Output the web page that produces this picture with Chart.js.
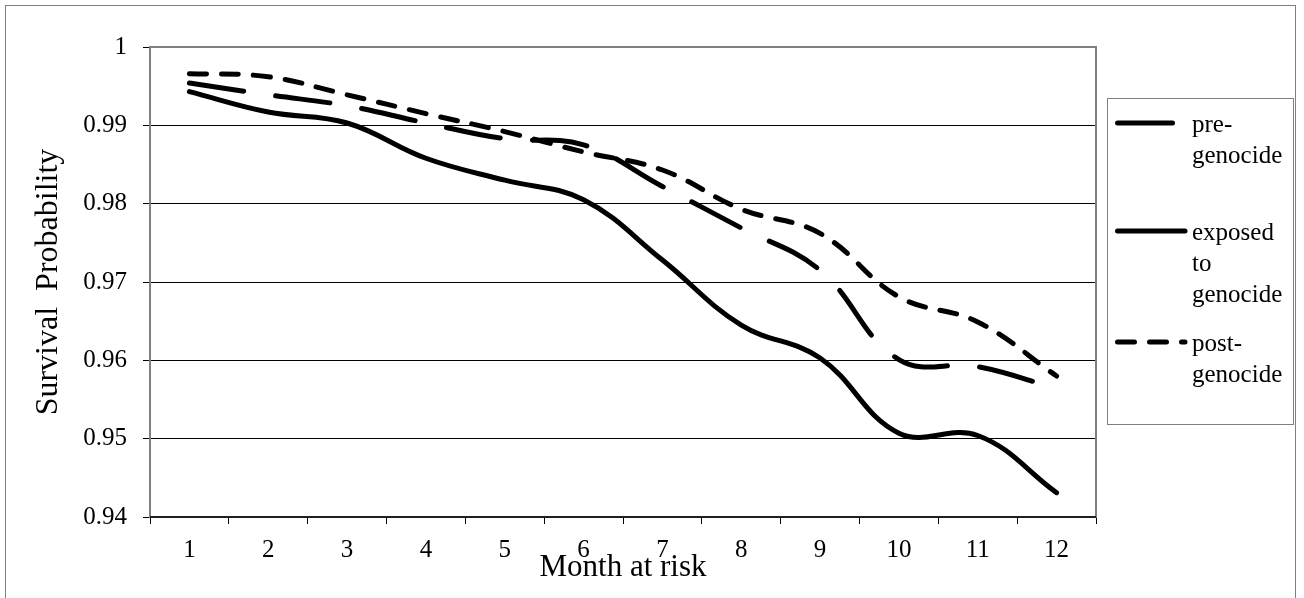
<!DOCTYPE html>
<html>
<head>
<meta charset="utf-8">
<title>Survival Probability by Month at risk</title>
<script src="https://cdn.jsdelivr.net/npm/chart.js@4/dist/chart.umd.min.js"></script>
<style>
  html, body { margin:0; padding:0; background:#fff; }
  #wrap { width:1304px; height:598px; position:relative; overflow:hidden; font-family:"Liberation Serif", serif; }
</style>
</head>
<body>
<div id="wrap"><canvas id="chart" width="1304" height="598"></canvas></div>
<script>
// ===== DATA =====
const months = ['1','2','3','4','5','6','7','8','9','10','11','12'];
const preGenocide = [0.9954, 0.9939, 0.9925, 0.9903, 0.9883, 0.9875, 0.9822, 0.9769, 0.9715, 0.9601, 0.9592, 0.9564];
const exposedGenocide = [0.9943, 0.9917, 0.9903, 0.9858, 0.9830, 0.9805, 0.9728, 0.9645, 0.9603, 0.9507, 0.9504, 0.9431];
const postGenocide = [0.9966, 0.9962, 0.9939, 0.9915, 0.9892, 0.9866, 0.9843, 0.9793, 0.9762, 0.9681, 0.9649, 0.9580];
const seriesNames = ['pre-genocide', 'exposed to genocide', 'post-genocide'];
const legendLines = [['pre-', 'genocide'], ['exposed', 'to', 'genocide'], ['post-', 'genocide']];
const yTicks = [0.94, 0.95, 0.96, 0.97, 0.98, 0.99, 1];

const SERIF = '"Liberation Serif", "Times New Roman", serif';

// frame round the whole picture + plot area border
const framePlugin = {
  id: 'frame',
  beforeDatasetsDraw(chart) {
    const {ctx, chartArea: a} = chart;
    ctx.save();
    ctx.strokeStyle = '#808080';
    ctx.lineWidth = 2;
    ctx.strokeRect(a.left, a.top, a.right - a.left, a.bottom - a.top);
    ctx.strokeStyle = '#000';
    ctx.lineWidth = 1.5;
    ctx.beginPath(); ctx.moveTo(a.left, a.bottom); ctx.lineTo(a.right, a.bottom); ctx.stroke();
    ctx.restore();
  },
  afterDraw(chart) {
    const ctx = chart.ctx;
    ctx.save();
    ctx.strokeStyle = '#808080';
    ctx.lineWidth = 1;
    ctx.strokeRect(5.5, 5.5, 1290, 620);
    ctx.restore();
  }
};

// boxed legend on the right, wrapped text like the original
const boxLegend = {
  id: 'boxLegend',
  afterDraw(chart) {
    const ctx = chart.ctx;
    const box = {x: 1107, y: 98, w: 186, h: 326};
    const rowY = [123, 231, 342];
    ctx.save();
    ctx.strokeStyle = '#808080';
    ctx.lineWidth = 1;
    ctx.strokeRect(box.x + 0.5, box.y + 0.5, box.w, box.h);
    chart.data.datasets.forEach((ds, i) => {
      const y = rowY[i];
      ctx.save();
      ctx.strokeStyle = ds.borderColor;
      ctx.lineWidth = ds.borderWidth;
      ctx.lineCap = 'round';
      ctx.setLineDash(ds.borderDash || []);
      ctx.beginPath(); ctx.moveTo(1117.5, y); ctx.lineTo(1185, y); ctx.stroke();
      ctx.restore();
      ctx.fillStyle = '#000';
      ctx.font = '25px ' + SERIF;
      ctx.textBaseline = 'middle';
      ctx.textAlign = 'left';
      legendLines[i].forEach((t, k) => ctx.fillText(t, 1192, y + 2 + k * 31));
    });
    ctx.restore();
  }
};

const lineStyle = {
  borderColor: '#000', backgroundColor: '#000', borderWidth: 5,
  pointRadius: 0, pointHoverRadius: 0, tension: 0.4, fill: false,
  borderCapStyle: 'round', borderJoinStyle: 'round'
};

function draw() {
  new Chart(document.getElementById('chart'), {
    type: 'line',
    data: {
      labels: months,
      datasets: [
        {...lineStyle, label: seriesNames[0], data: preGenocide, borderDash: [55, 32]},
        {...lineStyle, label: seriesNames[1], data: exposedGenocide},
        {...lineStyle, label: seriesNames[2], data: postGenocide, borderDash: [17, 15]}
      ]
    },
    options: {
      responsive: false,
      devicePixelRatio: 1,
      animation: false,
      layout: {padding: {left: 0, top: 47, right: 208, bottom: 0}},
      plugins: {legend: {display: false}, tooltip: {enabled: false}},
      scales: {
        x: {
          offset: true,
          afterFit: s => { s.height = 81 },
          grid: {offset: true, drawOnChartArea: false, drawTicks: true, tickLength: 7, color: '#000', lineWidth: 1},
          border: {display: false},
          ticks: {color: '#000', font: {family: SERIF, size: 25}, padding: 11, maxRotation: 0, autoSkip: false},
          title: {display: true, text: 'Month at risk', color: '#000', font: {family: SERIF, size: 31}, padding: {top: 0, bottom: 12}}
        },
        y: {
          min: 0.94, max: 1,
          afterFit: s => { s.width = 150 },
          afterBuildTicks: s => { s.ticks = yTicks.map(v => ({value: v})) },
          grid: {color: '#000', lineWidth: 1, tickLength: 7},
          border: {display: false},
          ticks: {color: '#000', font: {family: SERIF, size: 25}, padding: 16, callback: v => String(+(+v).toFixed(2))},
          title: {display: true, text: 'Survival  Probability', color: '#000', font: {family: SERIF, size: 32}, padding: {top: 29, bottom: 0}}
        }
      }
    },
    plugins: [framePlugin, boxLegend]
  });
}

// make sure the serif face is ready before the canvas text is drawn
Promise.all([
  document.fonts.load('25px "Liberation Serif"'),
  document.fonts.load('32px "Liberation Serif"')
]).then(draw, draw);
</script>
</body>
</html>
